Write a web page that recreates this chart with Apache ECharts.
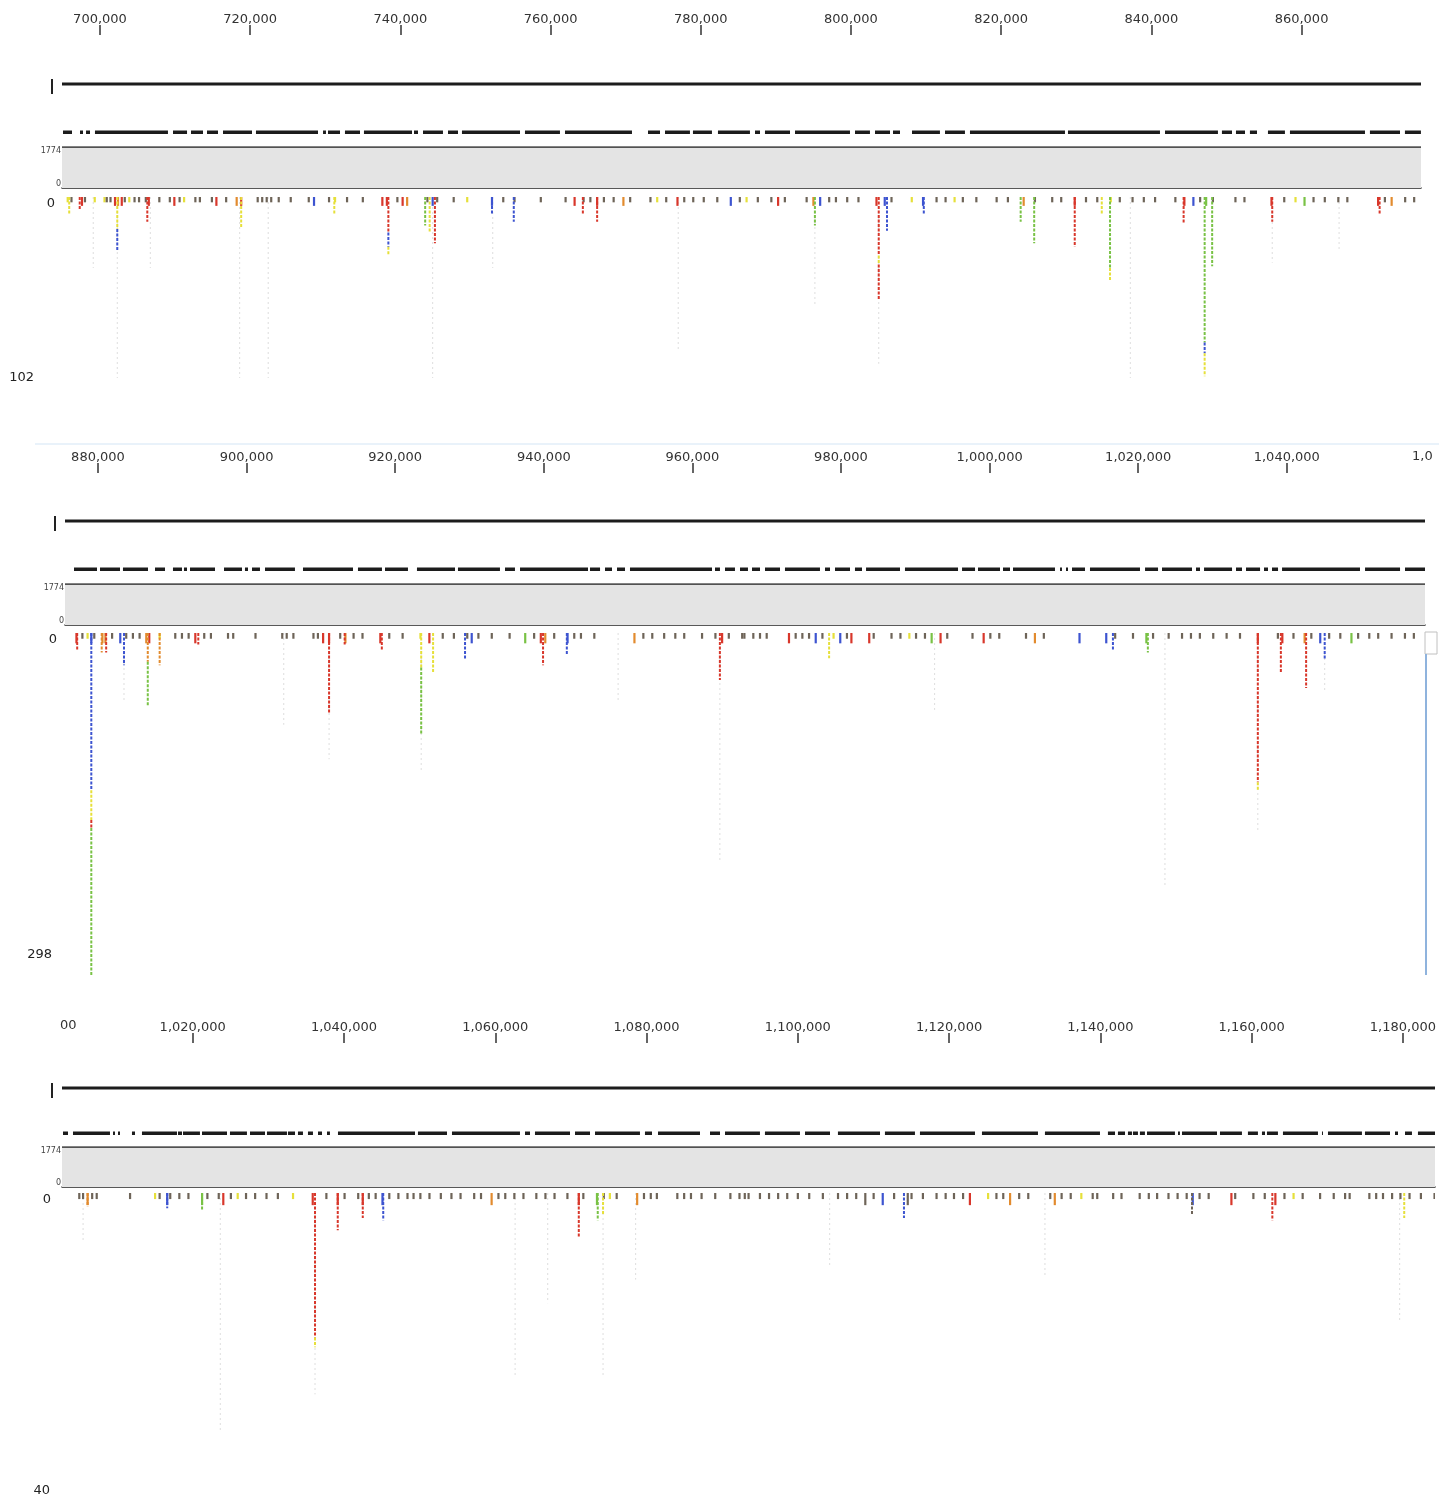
<!DOCTYPE html>
<html><head><meta charset="utf-8">
<script src="https://cdn.jsdelivr.net/npm/echarts@6/dist/echarts.min.js"></script>
<style>html,body{margin:0;padding:0;background:#fff}#c{width:1439px;height:1502px}</style>
</head><body><div id="c"></div>
<script>
// ---------- DATA (genomic positions in kb) ----------
const range1 = [694.94, 875.91];
const range2 = [875.56, 1058.60];
const range3 = [1002.72, 1183.86];

const ticks1 = [700,720,740,760,780,800,820,840,860];
const ticks2 = [880,900,920,940,960,980,1000,1020,1040];
const ticks3 = [1020,1040,1060,1080,1100,1120,1140,1160,1180];

const coverageMax = 1774;
const coverage1 = [[694.94,1774],[875.91,1774]];
const coverage2 = [[875.56,1774],[1058.60,1774]];
const coverage3 = [[1002.72,1774],[1183.86,1774]];

const depthMax1 = 102, depthMax2 = 298, depthMax3 = 40;

const solid1 = [[694.94,875.91]];
const solid2 = [[875.56,1058.60]];
const solid3 = [[1002.72,1183.86]];

const dashed1 = [[695.07,696.27],[697.34,697.74],[698.14,698.67],[699.33,709.05],[709.72,711.59],[712.12,713.72],[714.25,715.71],[716.38,720.24],[720.77,729.03],[729.70,730.09],[730.36,731.96],[732.62,734.62],[735.15,741.55],[741.81,742.35],[743.01,745.67],[746.34,747.67],[748.20,755.93],[756.59,761.25],[761.92,770.84],[772.97,774.57],[775.24,778.56],[778.96,781.49],[782.29,786.55],[787.22,787.89],[788.55,791.88],[792.55,799.87],[800.54,802.53],[803.20,805.20],[805.60,806.53],[808.13,811.85],[812.52,815.18],[815.85,828.50],[828.90,841.15],[841.82,848.87],[849.40,850.74],[851.27,852.47],[853.13,854.07],[855.53,857.79],[858.46,868.45],[869.11,873.11],[873.77,875.90]];
const dashed2 = [[876.77,879.87],[880.27,882.96],[883.36,886.73],[887.67,889.02],[890.09,891.31],[891.57,891.98],[892.38,895.75],[896.96,899.38],[899.78,900.19],[900.73,901.80],[902.48,906.51],[907.59,914.32],[914.99,918.22],[918.63,921.72],[922.93,928.05],[928.45,934.10],[934.78,936.12],[936.80,945.95],[946.22,947.57],[948.24,949.18],[949.85,950.93],[951.60,962.64],[963.04,963.71],[964.39,965.73],[966.41,967.48],[968.02,969.10],[969.77,971.79],[972.46,977.17],[977.85,978.52],[979.19,981.21],[981.88,982.83],[983.37,987.94],[988.61,995.75],[996.29,998.04],[998.44,1001.40],[1001.80,1002.75],[1003.15,1008.80],[1009.48,1009.74],[1010.28,1010.55],[1011.09,1012.84],[1013.51,1020.24],[1020.92,1022.67],[1023.20,1027.24],[1027.78,1028.32],[1028.86,1032.63],[1033.16,1033.97],[1034.51,1036.40],[1036.93,1037.47],[1038.01,1038.82],[1039.36,1049.85],[1050.53,1055.24],[1055.91,1058.60]];
const dashed3 = [[1002.85,1003.51],[1004.17,1009.05],[1009.45,1009.71],[1010.11,1010.37],[1011.95,1012.35],[1013.27,1017.89],[1018.02,1018.55],[1018.68,1020.92],[1021.19,1024.49],[1024.88,1027.12],[1027.52,1029.50],[1029.76,1032.40],[1032.53,1033.46],[1033.85,1034.51],[1035.17,1035.83],[1036.49,1037.02],[1037.68,1038.07],[1039.13,1049.29],[1049.68,1053.51],[1054.17,1063.14],[1063.80,1064.46],[1065.12,1069.74],[1070.40,1072.38],[1073.04,1078.97],[1079.63,1080.56],[1081.35,1086.89],[1088.21,1089.53],[1090.19,1094.80],[1095.46,1100.08],[1100.74,1104.04],[1105.09,1110.64],[1111.29,1115.25],[1115.91,1123.17],[1124.09,1131.48],[1132.40,1139.66],[1140.71,1141.64],[1142.03,1142.96],[1143.35,1143.88],[1144.01,1144.67],[1144.93,1145.59],[1145.86,1149.55],[1149.95,1150.21],[1150.48,1155.10],[1155.49,1158.39],[1159.18,1160.50],[1161.03,1161.43],[1161.69,1163.14],[1163.80,1168.42],[1168.95,1169.08],[1169.74,1174.22],[1174.62,1177.92],[1178.58,1178.98],[1179.90,1180.82],[1181.61,1183.86]];

// spikes: [position, fromDepth, toDepth, colour]
const spikes1 = [[695.9,0,10,'Y'],[697.3,0,7,'R'],[702.3,0,18,'Y'],[702.3,18,30,'B'],[706.3,0,14,'R'],[718.8,0,17,'Y'],[731.2,0,10,'Y'],[738.4,0,20,'R'],[738.4,20,28,'B'],[738.4,28,33,'Y'],[743.3,0,16,'G'],[743.9,0,20,'Y'],[744.6,0,26,'R'],[752.2,0,10,'B'],[755.1,0,14,'B'],[764.3,0,10,'R'],[766.2,0,14,'R'],[795.2,0,16,'G'],[803.7,0,33,'R'],[803.7,33,38,'Y'],[803.7,38,58,'R'],[804.8,0,19,'B'],[809.7,0,10,'B'],[822.6,0,14,'G'],[824.4,0,26,'G'],[829.8,0,28,'R'],[833.4,0,10,'Y'],[834.5,0,40,'G'],[834.5,40,47,'Y'],[844.3,0,15,'R'],[847.1,0,82,'G'],[847.1,82,88,'B'],[847.1,88,101,'Y'],[848.1,0,39,'G'],[856.1,0,14,'R'],[870.4,0,10,'R']];
const spikes2 = [[877.2,0,15,'R'],[879.1,0,137,'B'],[879.1,137,163,'Y'],[879.1,163,170,'R'],[879.1,170,298,'G'],[880.5,0,17,'O'],[881.1,0,17,'R'],[883.5,0,28,'B'],[886.7,0,25,'O'],[886.7,25,64,'G'],[888.3,0,28,'O'],[893.5,0,10,'R'],[911.1,0,70,'R'],[913.2,0,10,'R'],[918.2,0,15,'R'],[923.5,0,30,'Y'],[923.5,30,88,'G'],[925.1,0,34,'Y'],[929.4,0,23,'B'],[939.9,0,28,'R'],[943.1,0,19,'B'],[963.7,0,41,'R'],[978.4,0,22,'Y'],[1016.6,0,15,'B'],[1021.3,0,17,'G'],[1036.1,0,130,'R'],[1036.1,130,137,'Y'],[1039.2,0,34,'R'],[1042.6,0,48,'R'],[1045.1,0,23,'B']];
const spikes3 = [[1006.1,0,1.8,'O'],[1016.6,0,2,'B'],[1021.2,0,2.2,'G'],[1036.1,0,19,'R'],[1036.1,19,20.3,'Y'],[1039.1,0,4.9,'R'],[1042.4,0,3.3,'R'],[1045.1,0,3.6,'B'],[1070.9,0,5.9,'R'],[1073.4,0,3.6,'G'],[1074.1,0,2.9,'Y'],[1113.8,0,3.3,'B'],[1151.8,0,2.9,'K'],[1162.4,0,3.6,'R'],[1179.8,0,3.3,'Y']];

// short ticks at the top of the pileup: [position, depth, colour]
const stubs1 = [[695.7,3,'Y'],[696.2,3,'K'],[697.6,5,'R'],[698.0,3,'K'],[699.3,3,'Y'],[700.6,3,'Y'],[700.9,3,'K'],[701.4,3,'K'],[702.0,5,'R'],[702.4,5,'O'],[702.9,5,'R'],[703.3,3,'K'],[703.9,3,'Y'],[704.6,3,'K'],[705.2,3,'K'],[706.1,3,'K'],[706.5,5,'R'],[707.9,3,'K'],[709.3,3,'K'],[709.9,5,'R'],[710.6,3,'K'],[711.2,3,'Y'],[712.7,3,'K'],[713.3,3,'K'],[714.9,3,'K'],[715.5,5,'R'],[716.8,3,'K'],[718.2,5,'O'],[718.8,5,'R'],[721.0,3,'K'],[721.6,3,'K'],[722.2,3,'K'],[722.8,3,'K'],[723.8,3,'K'],[725.4,3,'K'],[727.8,3,'K'],[728.5,5,'B'],[730.5,3,'K'],[731.3,3,'Y'],[732.9,3,'K'],[735.0,3,'K'],[737.6,5,'R'],[738.2,5,'R'],[739.6,3,'K'],[740.3,5,'R'],[740.9,5,'O'],[743.6,3,'K'],[744.3,5,'B'],[744.9,3,'K'],[747.1,3,'K'],[748.9,3,'Y'],[752.2,5,'B'],[753.7,3,'K'],[755.2,3,'K'],[758.7,3,'K'],[762.0,3,'K'],[763.2,5,'R'],[764.4,3,'K'],[765.3,3,'K'],[766.2,5,'R'],[767.1,3,'K'],[768.4,3,'K'],[769.7,5,'O'],[770.6,3,'K'],[773.3,3,'K'],[774.2,3,'Y'],[775.4,3,'K'],[776.9,5,'R'],[777.8,3,'K'],[779.0,3,'K'],[780.4,3,'K'],[782.2,3,'K'],[784.0,5,'B'],[785.2,3,'K'],[786.1,3,'Y'],[787.6,3,'K'],[789.4,3,'K'],[790.3,5,'R'],[791.2,3,'K'],[794.1,3,'K'],[795.0,5,'O'],[795.9,5,'B'],[797.1,3,'K'],[798.0,3,'K'],[799.5,3,'K'],[801.0,3,'K'],[803.4,5,'R'],[804.5,5,'B'],[805.4,3,'K'],[808.1,3,'Y'],[809.6,5,'B'],[811.4,3,'K'],[812.6,3,'K'],[813.8,3,'Y'],[814.9,3,'K'],[816.7,3,'K'],[819.4,3,'K'],[820.9,3,'K'],[823.0,5,'O'],[824.5,3,'K'],[826.8,3,'K'],[828.0,3,'K'],[829.8,5,'R'],[831.3,3,'K'],[832.8,3,'K'],[834.6,3,'Y'],[835.8,3,'K'],[837.5,3,'K'],[839.0,3,'K'],[840.5,3,'K'],[843.2,3,'K'],[844.4,5,'R'],[845.6,5,'B'],[846.5,3,'K'],[847.3,5,'G'],[848.2,3,'K'],[851.2,3,'K'],[852.4,3,'K'],[856.0,5,'R'],[857.7,3,'K'],[859.2,3,'Y'],[860.4,5,'G'],[861.6,3,'K'],[863.1,3,'K'],[864.9,3,'K'],[866.1,3,'K'],[870.2,5,'R'],[871.1,3,'K'],[872.0,5,'O'],[873.8,3,'K'],[875.0,3,'K']];
const stubs2 = [[877.1,9,'R'],[877.9,5,'K'],[878.6,5,'Y'],[879.1,9,'B'],[879.5,5,'K'],[880.6,9,'O'],[881.0,9,'O'],[881.9,5,'K'],[883.0,9,'B'],[883.8,5,'K'],[884.7,5,'K'],[885.6,5,'K'],[886.5,9,'O'],[886.9,9,'R'],[888.3,5,'Y'],[890.4,5,'K'],[891.3,5,'K'],[892.2,5,'K'],[893.1,9,'R'],[894.3,5,'K'],[895.2,5,'K'],[897.5,5,'K'],[898.2,5,'K'],[901.2,5,'K'],[904.8,5,'K'],[905.4,5,'K'],[906.3,5,'K'],[909.0,5,'K'],[909.6,5,'K'],[910.3,9,'R'],[911.1,9,'R'],[912.6,5,'K'],[913.3,9,'O'],[914.4,5,'K'],[915.6,5,'K'],[918.0,9,'R'],[919.2,5,'K'],[921.0,5,'K'],[923.4,5,'Y'],[924.6,9,'R'],[926.4,5,'K'],[927.9,5,'K'],[929.7,5,'K'],[930.3,9,'B'],[931.2,5,'K'],[933.0,5,'K'],[935.4,5,'K'],[937.5,9,'G'],[938.7,5,'K'],[939.6,9,'R'],[940.2,9,'O'],[941.4,5,'K'],[943.2,9,'B'],[944.1,5,'K'],[945.0,5,'K'],[946.8,5,'K'],[952.2,9,'O'],[953.4,5,'K'],[954.6,5,'K'],[956.2,5,'K'],[957.7,5,'K'],[958.9,5,'K'],[961.3,5,'K'],[963.1,5,'K'],[964.0,9,'R'],[964.9,5,'K'],[966.7,5,'K'],[967.0,5,'K'],[968.2,5,'K'],[969.1,5,'K'],[970.0,5,'K'],[973.0,9,'R'],[973.9,5,'K'],[974.8,5,'K'],[975.7,5,'K'],[976.6,9,'B'],[977.5,5,'K'],[979.0,5,'Y'],[979.9,9,'B'],[980.8,5,'K'],[981.4,9,'R'],[983.8,9,'R'],[984.4,5,'K'],[986.8,5,'K'],[988.0,5,'K'],[989.2,5,'Y'],[990.1,5,'K'],[991.3,5,'K'],[992.2,9,'G'],[993.4,9,'R'],[994.3,5,'K'],[997.7,5,'K'],[999.2,9,'R'],[1000.1,5,'K'],[1001.3,5,'K'],[1004.9,5,'K'],[1006.1,9,'O'],[1007.3,5,'K'],[1012.1,9,'B'],[1015.7,9,'B'],[1016.9,5,'K'],[1019.3,5,'K'],[1021.1,9,'G'],[1022.0,5,'K'],[1024.1,5,'K'],[1025.9,5,'K'],[1027.1,5,'K'],[1028.3,5,'K'],[1030.1,5,'K'],[1031.9,5,'K'],[1033.7,5,'K'],[1036.1,9,'R'],[1038.8,5,'K'],[1039.4,9,'R'],[1040.9,5,'K'],[1042.4,9,'O'],[1043.3,5,'K'],[1044.5,9,'B'],[1045.7,5,'K'],[1047.2,5,'K'],[1048.7,9,'G'],[1049.6,5,'K'],[1051.1,5,'K'],[1052.3,5,'K'],[1054.1,5,'K'],[1055.9,5,'K'],[1057.1,5,'K']];
const stubs3 = [[1005.0,0.8,'K'],[1005.5,0.8,'K'],[1006.1,1.6,'O'],[1006.7,0.8,'K'],[1007.3,0.8,'K'],[1011.7,0.8,'K'],[1015.0,0.8,'Y'],[1015.6,0.8,'K'],[1016.6,1.6,'B'],[1017.0,0.8,'K'],[1018.2,0.8,'K'],[1019.4,0.8,'K'],[1021.2,1.6,'G'],[1021.9,0.8,'K'],[1023.4,0.8,'K'],[1024.0,1.6,'R'],[1025.0,0.8,'K'],[1025.9,0.8,'Y'],[1027.0,0.8,'K'],[1028.2,0.8,'K'],[1029.7,0.8,'K'],[1031.2,0.8,'K'],[1033.2,0.8,'Y'],[1035.8,1.6,'R'],[1037.6,0.8,'K'],[1039.1,1.6,'R'],[1040.0,0.8,'K'],[1041.8,0.8,'K'],[1042.4,1.6,'R'],[1043.2,0.8,'K'],[1044.1,0.8,'K'],[1045.0,1.6,'B'],[1045.9,0.8,'K'],[1047.1,0.8,'K'],[1048.3,0.8,'K'],[1049.1,0.8,'K'],[1050.0,0.8,'K'],[1051.2,0.8,'K'],[1052.7,0.8,'K'],[1054.1,0.8,'K'],[1055.3,0.8,'K'],[1057.1,0.8,'K'],[1058.0,0.8,'K'],[1059.4,1.6,'O'],[1060.3,0.8,'K'],[1061.2,0.8,'K'],[1062.4,0.8,'K'],[1063.6,0.8,'K'],[1065.3,0.8,'K'],[1066.5,0.8,'K'],[1067.7,0.8,'K'],[1069.4,0.8,'K'],[1070.9,1.6,'R'],[1071.5,0.8,'K'],[1073.3,1.6,'G'],[1074.2,0.8,'K'],[1075.0,0.8,'Y'],[1075.9,0.8,'K'],[1078.6,1.6,'O'],[1079.5,0.8,'K'],[1080.4,0.8,'K'],[1081.2,0.8,'K'],[1083.9,0.8,'K'],[1084.8,0.8,'K'],[1085.7,0.8,'K'],[1087.1,0.8,'K'],[1088.9,0.8,'K'],[1090.9,0.8,'K'],[1092.1,0.8,'K'],[1092.8,0.8,'K'],[1093.3,0.8,'K'],[1094.8,0.8,'K'],[1096.0,0.8,'K'],[1097.2,0.8,'K'],[1098.4,0.8,'K'],[1099.8,0.8,'K'],[1101.3,0.8,'K'],[1103.1,0.8,'K'],[1105.1,0.8,'K'],[1106.3,0.8,'K'],[1107.5,0.8,'K'],[1108.7,1.6,'K'],[1109.8,0.8,'K'],[1111.0,1.6,'B'],[1112.5,0.8,'K'],[1114.3,1.6,'K'],[1114.8,0.8,'K'],[1116.3,0.8,'K'],[1118.1,0.8,'K'],[1119.3,0.8,'K'],[1120.4,0.8,'K'],[1121.6,0.8,'K'],[1122.5,1.6,'R'],[1124.9,0.8,'Y'],[1126.0,0.8,'K'],[1126.9,0.8,'K'],[1127.8,1.6,'O'],[1129.0,0.8,'K'],[1130.2,0.8,'K'],[1133.1,0.8,'K'],[1133.7,1.6,'O'],[1134.6,0.8,'K'],[1135.8,0.8,'K'],[1137.2,0.8,'Y'],[1138.7,0.8,'K'],[1139.3,0.8,'K'],[1141.4,0.8,'K'],[1142.5,0.8,'K'],[1144.9,0.8,'K'],[1146.1,0.8,'K'],[1147.2,0.8,'K'],[1148.7,0.8,'K'],[1149.9,0.8,'K'],[1151.1,0.8,'K'],[1151.9,1.6,'B'],[1152.8,0.8,'K'],[1154.0,0.8,'K'],[1157.0,1.6,'R'],[1157.5,0.8,'K'],[1159.9,0.8,'K'],[1161.4,0.8,'K'],[1162.8,1.6,'R'],[1164.0,0.8,'K'],[1165.2,0.8,'Y'],[1166.4,0.8,'K'],[1168.7,0.8,'K'],[1170.5,0.8,'K'],[1172.0,0.8,'K'],[1172.6,0.8,'K'],[1175.2,0.8,'K'],[1176.1,0.8,'K'],[1177.0,0.8,'K'],[1178.2,0.8,'K'],[1179.3,0.8,'K'],[1180.5,0.8,'K'],[1182.0,0.8,'K'],[1183.8,0.8,'K']];

// faint low-quality read traces: [position, depth]
const faint1 = [[699.1,40],[702.3,102],[706.7,40],[718.6,102],[722.4,102],[744.3,102],[752.3,40],[777.0,86],[795.2,62],[803.7,94],[837.2,102],[856.1,37],[865.0,30]];
const faint2 = [[883.5,60],[905.0,80],[911.1,110],[923.5,120],[950.0,60],[963.7,198],[992.6,67],[1023.6,220],[1036.1,172],[1045.1,50]];
const faint3 = [[1005.5,6.2],[1023.6,31.2],[1036.1,26.5],[1062.5,24],[1066.8,14.5],[1074.1,24],[1078.4,11.4],[1104.0,9.5],[1132.4,10.8],[1179.2,17]];

// ---------- STYLE / LAYOUT ----------
const PAL = {R:'#d8372b', B:'#3d54d0', G:'#79c245', Y:'#e6e03a', O:'#e28b2e', K:'#6e6458'};
const FONT = 'DejaVu Sans';
const panels = [
  {range:range1, ticks:ticks1, solid:solid1, dashed:dashed1, coverage:coverage1, spikes:spikes1, stubs:stubs1, faint:faint1, depthMax:depthMax1,
   L:62, R:1421, axisY:34, solidY:84, dashY:132, covTop:147, covBot:188, spTop:197, spBot:378, zeroMargin:7, maxPadR:21, maxPadB:0, maxVA:'middle'},
  {range:range2, ticks:ticks2, solid:solid2, dashed:dashed2, coverage:coverage2, spikes:spikes2, stubs:stubs2, faint:faint2, depthMax:depthMax2,
   L:65, R:1425, axisY:472, solidY:521, dashY:569, covTop:584, covBot:625, spTop:633, spBot:975, zeroMargin:8, maxPadR:5, maxPadB:14, maxVA:'bottom'},
  {range:range3, ticks:ticks3, solid:solid3, dashed:dashed3, coverage:coverage3, spikes:spikes3, stubs:stubs3, faint:faint3, depthMax:depthMax3,
   L:62, R:1435, axisY:1042, solidY:1088, dashY:1133, covTop:1147, covBot:1187, spTop:1193, spBot:1497, zeroMargin:11, maxPadR:1, maxPadB:0, maxVA:'bottom'}
];

const fmt = v => Math.round(v*1000).toLocaleString('en-US');

function segItem(params, api){
  const cs = params.coordSys;
  const p0 = api.coord([api.value(0), 0]);
  const p1 = api.coord([api.value(1), 0]);
  return {type:'rect', shape:{x:p0[0], y:cs.y, width:Math.max(1, p1[0]-p0[0]), height:cs.height}, style:{fill:'#1c1c1c'}};
}
function vItem(width, dash){
  return function(params, api){
    const x = api.value(0);
    const p0 = api.coord([x, api.value(1)]);
    const p1 = api.coord([x, api.value(2)]);
    return {type:'line', shape:{x1:p0[0], y1:p0[1], x2:p1[0], y2:p1[1]},
      style:{stroke:api.visual('color'), lineWidth:width, lineDash:dash}};
  };
}

const grid=[], xAxis=[], yAxis=[], series=[], graphic=[];
panels.forEach(p => {
  const addGrid = (top, height) => { grid.push({left:p.L, width:p.R-p.L, top:top, height:height}); return grid.length-1; };
  const hiddenX = gi => ({gridIndex:gi, type:'value', min:p.range[0], max:p.range[1], show:false});
  const hiddenY = gi => ({gridIndex:gi, type:'value', min:0, max:1, show:false});

  // ruler
  let g = addGrid(p.axisY, 1);
  xAxis.push({gridIndex:g, type:'value', min:p.range[0], max:p.range[1], position:'top',
    axisLine:{show:false}, splitLine:{show:false},
    axisTick:{show:true, length:10, inside:false, customValues:p.ticks, lineStyle:{color:'#333', width:1.5}},
    axisLabel:{show:true, customValues:p.ticks, formatter:fmt, fontSize:13, color:'#333', margin:8, fontFamily:FONT}});
  yAxis.push(hiddenY(g));

  // solid track
  g = addGrid(p.solidY-1.5, 3);
  xAxis.push(hiddenX(g)); yAxis.push(hiddenY(g));
  series.push({type:'custom', xAxisIndex:g, yAxisIndex:g, renderItem:segItem, encode:{x:[0,1]}, data:p.solid, silent:true});

  // dashed track
  g = addGrid(p.dashY-1.5, 3.5);
  xAxis.push(hiddenX(g)); yAxis.push(hiddenY(g));
  series.push({type:'custom', xAxisIndex:g, yAxisIndex:g, renderItem:segItem, encode:{x:[0,1]}, data:p.dashed, silent:true});

  // coverage
  g = addGrid(p.covTop, p.covBot-p.covTop);
  xAxis.push({gridIndex:g, type:'value', min:p.range[0], max:p.range[1], position:'bottom',
    axisLine:{show:true, onZero:false, lineStyle:{color:'#222', width:1.5}}, axisTick:{show:false}, axisLabel:{show:false}, splitLine:{show:false}});
  yAxis.push({gridIndex:g, type:'value', min:0, max:coverageMax, interval:coverageMax,
    axisLine:{show:false}, axisTick:{show:false}, splitLine:{show:false},
    axisLabel:{show:true, fontSize:8, color:'#444', margin:1, fontFamily:FONT, formatter: v => String(v),
      verticalAlignMaxLabel:'top', verticalAlignMinLabel:'bottom'}});
  series.push({type:'line', xAxisIndex:g, yAxisIndex:g, data:p.coverage, showSymbol:false, silent:true,
    lineStyle:{color:'#222', width:1.5}, areaStyle:{color:'#e4e4e4', opacity:1}});

  // pileup
  g = addGrid(p.spTop, p.spBot-p.spTop);
  xAxis.push(hiddenX(g));
  yAxis.push({gridIndex:g, type:'value', inverse:true, min:0, max:p.depthMax, interval:p.depthMax,
    axisLine:{show:false}, axisTick:{show:false}, splitLine:{show:false},
    axisLabel:{show:true, margin:p.zeroMargin, verticalAlignMinLabel:'top', verticalAlignMaxLabel:p.maxVA,
      formatter: v => v === 0 ? '{z|0}' : '{m|' + v + '}',
      rich:{z:{fontSize:13, color:'#222', fontFamily:FONT},
            m:{fontSize:13, color:'#222', fontFamily:FONT, padding:[0, p.maxPadR, p.maxPadB, 0]}}}});
  series.push({type:'custom', xAxisIndex:g, yAxisIndex:g, renderItem:vItem(1, [2,3]), encode:{x:0, y:[1,2]}, silent:true, clip:true,
    data:p.faint.map(d => ({value:[d[0], 0, d[1]], itemStyle:{color:'#dedede'}}))});
  series.push({type:'custom', xAxisIndex:g, yAxisIndex:g, renderItem:vItem(2.2, null), encode:{x:0, y:[1,2]}, silent:true, clip:true,
    data:p.stubs.map(d => ({value:[d[0], 0, d[1]], itemStyle:{color:PAL[d[2]]}}))});
  series.push({type:'custom', xAxisIndex:g, yAxisIndex:g, renderItem:vItem(2, [3,1.5]), encode:{x:0, y:[1,2]}, silent:true, clip:true,
    data:p.spikes.map(d => ({value:[d[0], d[1], d[2]], itemStyle:{color:PAL[d[3]]}}))});

  // small track marker left of the solid line
  graphic.push({type:'line', shape:{x1:p.L-10, y1:p.solidY-5, x2:p.L-10, y2:p.solidY+10}, style:{stroke:'#222', lineWidth:2}});
});

// partial ruler labels clipped at the edges, panel separator and scroll bar
graphic.push({type:'text', left:1412, top:450, style:{text:'1,0', font:'13px "DejaVu Sans"', fill:'#333'}});
graphic.push({type:'text', left:60, top:1019, style:{text:'00', font:'13px "DejaVu Sans"', fill:'#333'}});
graphic.push({type:'line', shape:{x1:35, y1:444, x2:1439, y2:444}, style:{stroke:'#e2eef8', lineWidth:1.5}});
graphic.push({type:'rect', shape:{x:1425, y:632, width:12, height:22}, style:{fill:'#fff', stroke:'#c0c0c0', lineWidth:1}});
graphic.push({type:'line', shape:{x1:1426, y1:654, x2:1426, y2:975}, style:{stroke:'#8fb3dd', lineWidth:2}});

const chart = echarts.init(document.getElementById('c'), null, {renderer:'canvas'});
chart.setOption({animation:false, backgroundColor:'#fff', grid, xAxis, yAxis, series, graphic});
</script>
</body></html>
